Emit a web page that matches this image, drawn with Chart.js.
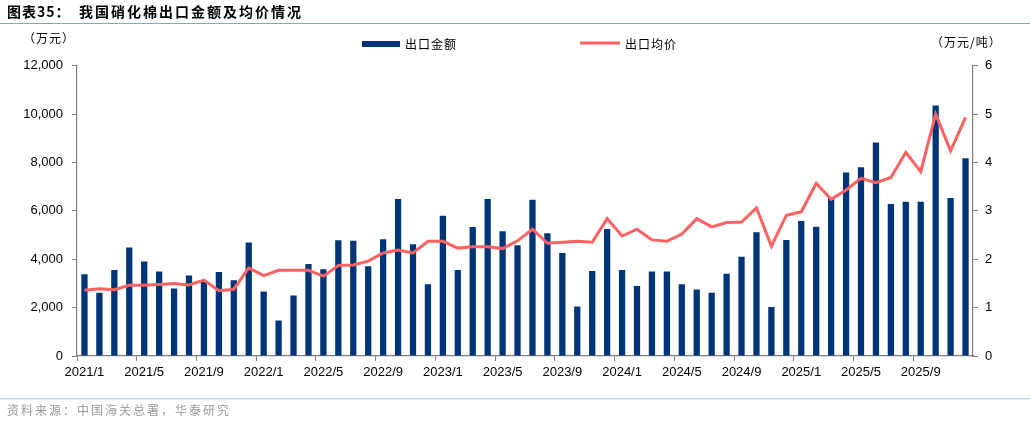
<!DOCTYPE html>
<html>
<head>
<meta charset="utf-8">
<script src="https://cdn.jsdelivr.net/npm/chart.js@4.4.1/dist/chart.umd.min.js"></script>
<style>
  html, body { margin: 0; padding: 0; background: #fff; }
  #wrap { position: relative; width: 1030px; height: 423px; }
</style>
</head>
<body>
<div id="wrap"><canvas id="exportChart" width="1030" height="423"></canvas></div>
<script>
const months = [
    '2021/1', '2021/2', '2021/3', '2021/4', '2021/5', '2021/6', '2021/7', '2021/8', '2021/9', '2021/10', '2021/11', '2021/12',
    '2022/1', '2022/2', '2022/3', '2022/4', '2022/5', '2022/6', '2022/7', '2022/8', '2022/9', '2022/10', '2022/11', '2022/12',
    '2023/1', '2023/2', '2023/3', '2023/4', '2023/5', '2023/6', '2023/7', '2023/8', '2023/9', '2023/10', '2023/11', '2023/12',
    '2024/1', '2024/2', '2024/3', '2024/4', '2024/5', '2024/6', '2024/7', '2024/8', '2024/9', '2024/10', '2024/11', '2024/12',
    '2025/1', '2025/2', '2025/3', '2025/4', '2025/5', '2025/6', '2025/7', '2025/8', '2025/9', '2025/10', '2025/11', '2025/12'
];

// 出口金额 (万元)
const exportAmount = [
    3380, 2610, 3550, 4490, 3910, 3490, 2790, 3330, 3080, 3470, 3130, 4690,
    2670, 1470, 2500, 3800, 3590, 4780, 4760, 3710, 4830, 6490, 4620, 2970,
    5800, 3550, 5330, 6490, 5160, 4580, 6460, 5070, 4260, 2050, 3510, 5250,
    3550, 2890, 3490, 3490, 2970, 2750, 2610, 3400, 4100, 5120, 2030, 4790,
    5580, 5340, 6540, 7590, 7800, 8830, 6280, 6380, 6380, 10350, 6530, 8170
];

// 出口均价 (万元/吨)
const avgPrice = [
    1.36, 1.39, 1.37, 1.46, 1.46, 1.48, 1.50, 1.47, 1.57, 1.35, 1.38, 1.82,
    1.66, 1.77, 1.77, 1.77, 1.65, 1.87, 1.88, 1.96, 2.13, 2.19, 2.13, 2.37,
    2.37, 2.23, 2.26, 2.26, 2.22, 2.38, 2.62, 2.33, 2.35, 2.37, 2.35, 2.84,
    2.48, 2.62, 2.40, 2.37, 2.52, 2.84, 2.67, 2.76, 2.77, 3.06, 2.27, 2.91,
    2.98, 3.57, 3.24, 3.43, 3.67, 3.58, 3.69, 4.21, 3.81, 5.00, 4.24, 4.93
];

const leftTicks = [0, 2000, 4000, 6000, 8000, 10000, 12000];
const rightTicks = [0, 1, 2, 3, 4, 5, 6];

const BAR_COLOR = '#003478';
const LINE_COLOR = '#FF6161';
const AXIS_COLOR = '#7f7f7f';
const TICK_FONT = { family: '"Liberation Sans", Arial, sans-serif', size: 13 };
const CJK = '"Noto Sans CJK SC", sans-serif';

// title, separators, units, legend and source
const decor = {
    id: 'decor',
    afterDraw(chart) {
        const c = chart.ctx;
        c.save();
        c.textBaseline = 'middle';

        c.fillStyle = '#000';
        c.font = 'bold 14px ' + CJK;
        c.letterSpacing = '1px';
        c.fillText('图表35：', 7, 12);
        c.letterSpacing = '2px';
        c.fillText('我国硝化棉出口金额及均价情况', 79, 12);

        c.fillStyle = '#8da2bb';
        c.fillRect(0, 23, 1030, 1);
        c.fillStyle = '#c8d4e2';
        c.fillRect(0, 398, 1030, 1.5);

        c.letterSpacing = '1px';
        c.font = '12px ' + CJK;
        c.fillStyle = '#000';
        c.fillText('（万元）', 23, 38);
        c.fillText('（万元/吨）', 931, 42);

        c.fillStyle = BAR_COLOR;
        c.fillRect(362, 41, 38, 6);
        c.fillStyle = '#000';
        c.fillText('出口金额', 405, 44);

        c.strokeStyle = LINE_COLOR;
        c.lineWidth = 3;
        c.beginPath();
        c.moveTo(580, 43);
        c.lineTo(620, 43);
        c.stroke();
        c.fillText('出口均价', 625, 44);

        c.letterSpacing = '2px';
        c.fillStyle = '#9a9a9a';
        c.fillText('资料来源：中国海关总署，华泰研究', 7, 410);
        c.restore();
    }
};

const ctx = document.getElementById('exportChart');

new Chart(ctx, {
    data: {
        labels: months,
        datasets: [{
            type: 'line',
            label: '出口均价',
            data: avgPrice,
            yAxisID: 'y1',
            borderColor: LINE_COLOR,
            borderWidth: 3,
            pointRadius: 0,
            tension: 0,
            order: 1
        }, {
            type: 'bar',
            label: '出口金额',
            data: exportAmount,
            yAxisID: 'y',
            backgroundColor: BAR_COLOR,
            categoryPercentage: 1,
            barPercentage: 0.42,
            order: 2
        }]
    },
    options: {
        responsive: false,
        animation: false,
        layout: { padding: { top: 65.7, bottom: 37, left: 0, right: 0 } },
        plugins: {
            legend: { display: false },
            tooltip: { enabled: false }
        },
        scales: {
            x: {
                offset: true,
                afterFit(s) { s.height = 30; },
                grid: {
                    offset: true,
                    drawOnChartArea: false,
                    tickLength: 5,
                    color: (c) => c.index % 4 === 0 ? AXIS_COLOR : 'rgba(0,0,0,0)'
                },
                border: { color: AXIS_COLOR, width: 1.2 },
                ticks: {
                    autoSkip: false,
                    maxRotation: 0,
                    padding: 4,
                    color: '#000',
                    font: TICK_FONT,
                    callback(v, i) { return i % 4 === 0 ? months[i] : ''; }
                }
            },
            y: {
                position: 'left',
                min: leftTicks[0],
                max: leftTicks[leftTicks.length - 1],
                afterFit(s) { s.width = 77; },
                afterBuildTicks(s) { s.ticks = leftTicks.map(v => ({ value: v })); },
                grid: { drawOnChartArea: false, tickLength: 5, color: AXIS_COLOR },
                border: { color: AXIS_COLOR, width: 1.2 },
                ticks: {
                    padding: 9,
                    color: '#000',
                    font: TICK_FONT,
                    callback(v) { return v.toLocaleString('en-US'); }
                }
            },
            y1: {
                position: 'right',
                min: rightTicks[0],
                max: rightTicks[rightTicks.length - 1],
                afterFit(s) { s.width = 57; },
                afterBuildTicks(s) { s.ticks = rightTicks.map(v => ({ value: v })); },
                grid: { drawOnChartArea: false, tickLength: 5, color: AXIS_COLOR },
                border: { color: AXIS_COLOR, width: 1.2 },
                ticks: {
                    padding: 7,
                    color: '#000',
                    font: TICK_FONT
                }
            }
        }
    },
    plugins: [decor]
});
</script>
</body>
</html>
